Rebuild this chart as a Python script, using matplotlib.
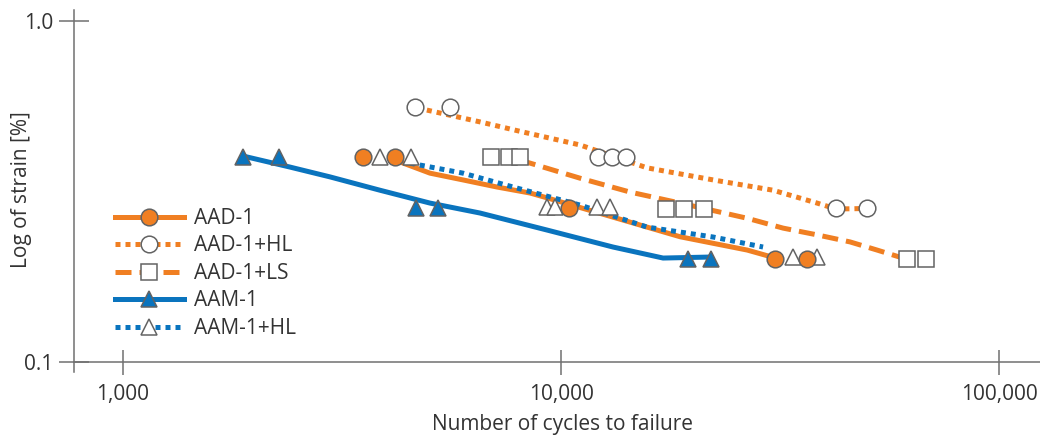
import matplotlib
matplotlib.use("Agg")
import matplotlib.pyplot as plt
from matplotlib.lines import Line2D
from matplotlib.ticker import FixedLocator, NullLocator

plt.rcParams['font.family'] = ['Open Sans', 'DejaVu Sans']

# ---------------- data ----------------
series_names = ["AAD-1", "AAD-1+HL", "AAD-1+LS", "AAM-1", "AAM-1+HL"]

# test points (cycles, strain %)
aad1_n = [3530, 4180, 10430, 30800, 36460]
aad1_s = [0.40, 0.40, 0.283, 0.20, 0.20]

aad1hl_n = [4640, 5580, 12140, 13070, 14070, 42460, 49970]
aad1hl_s = [0.56, 0.56, 0.40, 0.40, 0.40, 0.282, 0.282]

aad1ls_n = [6920, 7610, 8060, 17370, 19090, 21200, 61660, 68100]
aad1ls_s = [0.40, 0.40, 0.40, 0.281, 0.281, 0.281, 0.20, 0.20]

aam1_n = [1880, 2270, 4670, 5240, 19500, 22000]
aam1_s = [0.40, 0.40, 0.283, 0.283, 0.20, 0.20]

aam1hl_n = [3860, 4546, 9290, 9690, 12080, 12940, 33860, 38410]
aam1hl_s = [0.40, 0.40, 0.285, 0.285, 0.285, 0.285, 0.203, 0.203]

# fitted curves (cycles, strain %)
aad1_fit_n = [4180, 5020, 5970, 7140, 8500, 9290, 13140, 18700, 26600, 30800]
aad1_fit_s = [0.391, 0.358, 0.342, 0.326, 0.313, 0.303, 0.266, 0.233, 0.213, 0.202]

aad1hl_fit_n = [4940, 6530, 8190, 11050, 15720, 22240, 30480, 38410, 42460, 49970]
aad1hl_fit_s = [0.548, 0.506, 0.4725, 0.433, 0.371, 0.342, 0.319, 0.2925, 0.281, 0.282]

aad1ls_fit_n = [8060, 11050, 14380, 18700, 26600, 32130, 38410, 45700, 52650, 61660]
aad1ls_fit_s = [0.391, 0.346, 0.315, 0.2925, 0.264, 0.247, 0.236, 0.225, 0.213, 0.200]

aam1_fit_n = [1880, 2405, 2970, 3860, 5020, 6530, 9290, 13140, 17100, 22000]
aam1_fit_s = [0.4018, 0.373, 0.349, 0.319, 0.2925, 0.2735, 0.2438, 0.2174, 0.2018, 0.2032]

aam1hl_fit_n = [4520, 5970, 7770, 11050, 15720, 22240, 28920]
aam1hl_fit_s = [0.383, 0.358, 0.326, 0.2886, 0.2487, 0.2326, 0.2174]

x_ticks = [1000, 10000, 100000]
x_tick_labels = ["1,000", "10,000", "100,000"]
y_ticks = [0.1, 1.0]
y_tick_labels = ["0.1", "1.0"]

# ---------------- style ----------------
ORANGE = "#F07F22"
BLUE = "#0A74BE"
EDGE = "#636363"
TXT = "#333333"
AX = "#707070"
LW = 3.6
MS = 12
MEW = 1.1
FS = 15

DOT = (0, (1, 1))
DASH = (0, (3.2, 1.6))

styles = {
    "AAD-1": dict(color=ORANGE, ls="-", marker="o", mfc=ORANGE),
    "AAD-1+HL": dict(color=ORANGE, ls=DOT, marker="o", mfc="white"),
    "AAD-1+LS": dict(color=ORANGE, ls=DASH, marker="s", mfc="white"),
    "AAM-1": dict(color=BLUE, ls="-", marker="^", mfc=BLUE),
    "AAM-1+HL": dict(color=BLUE, ls=DOT, marker="^", mfc="white"),
}

fits = {
    "AAD-1": (aad1_fit_n, aad1_fit_s),
    "AAD-1+HL": (aad1hl_fit_n, aad1hl_fit_s),
    "AAD-1+LS": (aad1ls_fit_n, aad1ls_fit_s),
    "AAM-1": (aam1_fit_n, aam1_fit_s),
    "AAM-1+HL": (aam1hl_fit_n, aam1hl_fit_s),
}
points = {
    "AAD-1": (aad1_n, aad1_s),
    "AAD-1+HL": (aad1hl_n, aad1hl_s),
    "AAD-1+LS": (aad1ls_n, aad1ls_s),
    "AAM-1": (aam1_n, aam1_s),
    "AAM-1+HL": (aam1hl_n, aam1hl_s),
}

fig = plt.figure(figsize=(10.4, 4.36), dpi=100)
ax = fig.add_axes([74 / 1040, (436 - 372) / 436, 966 / 1040, 362 / 436])
ax.set_xscale("log")
ax.set_yscale("log")
ax.set_xlim(773, 124000)
ax.set_ylim(0.0935, 1.077)

for name in series_names:
    st = styles[name]
    fx, fy = fits[name]
    line, = ax.plot(fx, fy, color=st["color"], lw=LW, zorder=2)
    line.set_linestyle(st["ls"])
    line.set_dash_capstyle("butt")
    line.set_solid_capstyle("butt")

order_pts = ["AAD-1+LS", "AAD-1+HL", "AAM-1", "AAM-1+HL", "AAD-1"]
for i, name in enumerate(order_pts):
    st = styles[name]
    px, py = points[name]
    ax.plot(px, py, ls="none", marker=st["marker"], ms=MS, mfc=st["mfc"],
            mec=EDGE, mew=MEW, zorder=3 + i)

# axes styling
for s in ["top", "right"]:
    ax.spines[s].set_visible(False)
ax.spines["bottom"].set_position(("data", 0.1))
for s in ["left", "bottom"]:
    ax.spines[s].set_color(AX)
    ax.spines[s].set_linewidth(1.1)

ax.xaxis.set_major_locator(FixedLocator(x_ticks))
ax.xaxis.set_minor_locator(NullLocator())
ax.set_xticklabels(x_tick_labels)
ax.yaxis.set_major_locator(FixedLocator(y_ticks))
ax.yaxis.set_minor_locator(NullLocator())
ax.set_yticklabels(y_tick_labels)

ax.tick_params(axis="x", direction="inout", length=18, width=1.1, color=AX,
               labelsize=FS, labelcolor=TXT, pad=7)
ax.tick_params(axis="y", direction="inout", length=22, width=1.1, color=AX,
               labelsize=FS, labelcolor=TXT, pad=4)

ax.set_xlabel("Number of cycles to failure", fontsize=FS, color=TXT)
ax.xaxis.set_label_coords(562 / 1040, 1 - 414 / 436, transform=fig.transFigure)
ax.set_ylabel("Log of strain [%]", fontsize=FS, color=TXT)
ax.yaxis.set_label_coords(32 / 1040, 1 - 190 / 436, transform=fig.transFigure)

handles = []
for name in series_names:
    st = styles[name]
    h = Line2D([], [], color=st["color"], lw=LW, ls=st["ls"], marker=st["marker"],
               ms=MS, mfc=st["mfc"], mec=EDGE, mew=MEW)
    h.set_dash_capstyle("butt")
    handles.append(h)

leg = ax.legend(handles, series_names, loc="upper left",
                bbox_to_anchor=(115 / 1040, 1 - 208 / 436), bbox_transform=fig.transFigure,
                frameon=False, fontsize=FS, handlelength=3.3, handletextpad=0.5,
                labelspacing=0.31, borderpad=0, borderaxespad=0, numpoints=1)
for t in leg.get_texts():
    t.set_color(TXT)

fig.savefig("out.png", dpi=100)
